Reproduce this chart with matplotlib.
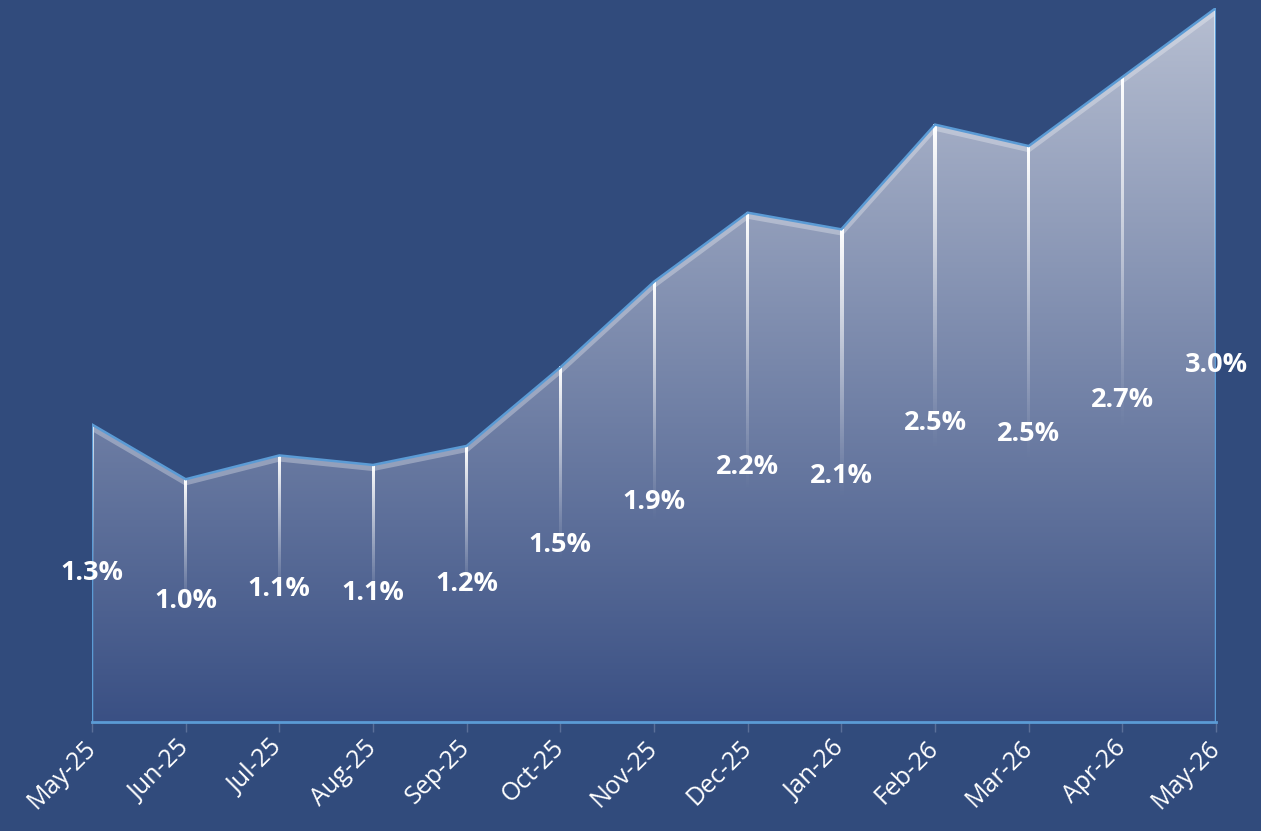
import matplotlib
matplotlib.use('Agg')
import matplotlib.pyplot as plt
import matplotlib.transforms as mtransforms
from matplotlib.colors import LinearSegmentedColormap
import numpy as np

months = ['May-25', 'Jun-25', 'Jul-25', 'Aug-25', 'Sep-25', 'Oct-25', 'Nov-25',
          'Dec-25', 'Jan-26', 'Feb-26', 'Mar-26', 'Apr-26', 'May-26']
values = [1.25, 1.02, 1.12, 1.08, 1.16, 1.49, 1.85, 2.14, 2.07, 2.51, 2.42, 2.71, 3.00]
labels = ['1.3%', '1.0%', '1.1%', '1.1%', '1.2%', '1.5%', '1.9%',
          '2.2%', '2.1%', '2.5%', '2.5%', '2.7%', '3.0%']

bg = '#314b7c'
edge_blue = '#5b9bd5'

fig = plt.figure(figsize=(12.61, 8.31), dpi=100, facecolor=bg)
ax = fig.add_axes([92 / 1261, 109 / 831, 1124 / 1261, 714 / 831])
ax.set_facecolor(bg)

x = np.arange(len(values))
ymax = max(values)
ax.set_xlim(0, len(values) - 1)
ax.set_ylim(0, ymax)

# gradient area
poly = ax.fill(np.r_[x, x[-1], x[0]], np.r_[values, 0, 0],
               facecolor='none', edgecolor='none')[0]
cmap = LinearSegmentedColormap.from_list('g', ['#3a5084', '#b6bed1'])
grad = np.linspace(0, 1, 256).reshape(-1, 1)
im = ax.imshow(grad, extent=[0, len(values) - 1, 0, ymax], origin='lower',
               aspect='auto', cmap=cmap, zorder=1)
im.set_clip_path(poly)

# light band under the top edge
shift = mtransforms.offset_copy(ax.transData, fig=fig, x=0, y=-3, units='dots')
band, = ax.plot(x, values, color='white', alpha=0.3, lw=4.5, transform=shift,
                zorder=2, solid_joinstyle='miter')
band.set_clip_path(poly)

# drop lines fading downward (white -> transparent)
t = np.linspace(0, 1, 200)
fade = np.zeros((200, 1, 4))
fade[..., :3] = 1.0
fade[:, 0, 3] = t ** 1.2
hw = 1.5 / (1124 / (len(values) - 1))
for xi, v in zip(x, values):
    ax.imshow(fade, extent=[xi - hw, xi + hw, v * 0.45, v], origin='lower',
              aspect='auto', interpolation='bilinear', zorder=3)

# outline
ax.plot(np.r_[x[0], x, x[-1]], np.r_[0, values, 0], color=edge_blue, lw=1.8,
        zorder=4, solid_joinstyle='miter')

# data labels
for xi, v, lab in zip(x, values, labels):
    ax.text(xi, v / 2, lab, ha='center', va='center', color='white',
            fontsize=19.5, fontweight='bold', family='Open Sans', zorder=5)

ax.set_xlim(0, len(values) - 1)
ax.set_ylim(0, ymax)
for s in ['top', 'left', 'right']:
    ax.spines[s].set_visible(False)
ax.spines['bottom'].set_color(edge_blue)
ax.spines['bottom'].set_linewidth(2)
ax.spines['bottom'].set_zorder(6)
ax.set_yticks([])
ax.set_xticks(x)
ax.set_xticklabels(months, rotation=45, ha='right', va='center',
                   rotation_mode='anchor', color='white', fontsize=18,
                   family='Open Sans')
ax.tick_params(axis='x', length=7, width=1, color='#5a6f99', pad=9)

fig.savefig('out.png', dpi=100, facecolor=bg)
